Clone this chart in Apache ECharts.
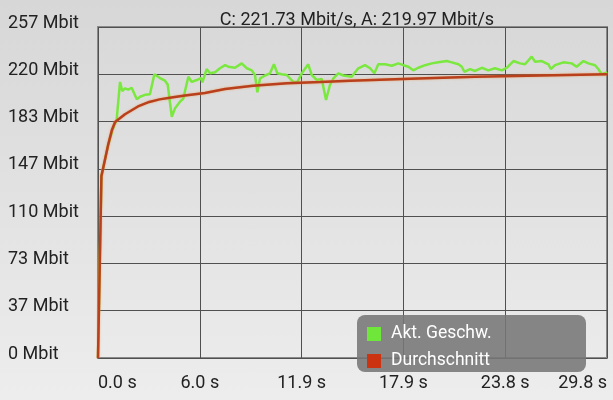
<!DOCTYPE html>
<html>
<head>
<meta charset="utf-8">
<script src="https://cdn.jsdelivr.net/npm/echarts@6/dist/echarts.min.js"></script>
<style>
html,body{margin:0;padding:0;}
#c{width:613px;height:400px;background:linear-gradient(#d7d7d7,#ededed);}
</style>
</head>
<body>
<div id="c"></div>
<script>
const titleText = 'C: 221.73 Mbit/s, A: 219.97 Mbit/s';
const seriesNames = ['Akt. Geschw.', 'Durchschnitt'];
const yTickLabels = ['0 Mbit','37 Mbit','73 Mbit','110 Mbit','147 Mbit','183 Mbit','220 Mbit','257 Mbit'];
const xTickLabels = ['0.0 s','6.0 s','11.9 s','17.9 s','23.8 s','29.8 s'];
const yMax = 256.6;
const xMax = 29.8;

const curTimes = [0,0.2,0.59,0.88,1.09,1.29,1.42,1.58,1.77,1.97,2.27,2.46,2.75,3.04,3.30,3.63,3.92,4.08,4.32,4.51,4.80,4.99,5.29,5.49,5.78,6.03,6.11,6.36,6.56,6.85,7.14,7.44,7.63,8.02,8.41,8.71,9.00,9.19,9.33,9.49,9.78,10.07,10.30,10.50,10.76,11.05,11.43,11.67,11.93,12.31,12.51,12.81,13.10,13.35,13.58,13.78,14.07,14.36,14.85,15.24,15.63,15.93,16.18,16.41,16.80,17.20,17.58,17.88,18.17,18.46,18.75,19.15,19.54,19.92,20.42,20.71,21.10,21.30,21.45,21.78,22.07,22.47,22.85,23.24,23.64,23.93,24.32,24.71,25.00,25.39,25.59,25.98,26.37,26.51,26.76,27.24,27.73,28.02,28.42,28.71,29.10,29.29,29.49,29.68,29.8];
const curValues = [0,141,165,178,184.5,214,207,209,208,209.5,200.5,202.5,204,204.4,220,217,215,212,187,193.6,198.7,201,218,214,215.5,217,213.7,224,220.7,221.5,224.6,227,225.8,225,228.4,224.6,223,219.4,206,216.8,219,220.7,227.7,220.7,220,219.4,214,214,220.7,227.7,219.4,215.5,216.3,200,211.6,216.8,220.7,219,218,224.6,227,224.6,220.7,227.7,227.7,226.6,228.4,227,225.8,223,225,227,228.4,229.2,230.2,229.2,227.7,225.8,221.9,224,222.5,225,223,224.6,223,225,230.2,228.4,227.7,233.6,229.7,230.2,227.7,224,227,229.2,228.4,225.8,230.2,228.4,227,224,220,220.7,221.73];

const avgTimes = [0,0.2,0.59,0.82,1.0,1.58,2.34,3.0,3.6,4.3,5.09,6.26,7.44,9.07,11.07,13.0,14.75,18.27,22.07,25.88,29.8];
const avgValues = [0,141,165,177,183,189,195,198.5,200.5,202,203.5,205.5,208.5,211,213,214,215,216.5,218,219,219.97];

const curData = curTimes.map((t,i)=>[t,curValues[i]]);
const avgData = avgTimes.map((t,i)=>[t,avgValues[i]]);

const chart = echarts.init(document.getElementById('c'));
const txt = '#222';
const font = 'Roboto';
chart.setOption({
  animation:false,
  backgroundColor:'transparent',
  textStyle:{fontFamily:font},
  title:{text:titleText,left:352,textAlign:'center',top:6,textStyle:{fontSize:18,fontWeight:'normal',color:txt,fontFamily:font}},
  grid:{left:98,top:27,right:6,bottom:42,show:true,borderColor:'#8a8a8a',borderWidth:2,backgroundColor:'transparent'},
  xAxis:{type:'value',min:0,max:xMax,interval:xMax/5,
    axisLine:{show:false},axisTick:{show:false},
    splitLine:{show:true,lineStyle:{color:'#505050',width:1}},
    axisLabel:{fontSize:18,color:txt,fontFamily:font,margin:16,alignMinLabel:'left',alignMaxLabel:'right',
      formatter:(v,i)=>xTickLabels[i]}},
  yAxis:{type:'value',min:0,max:yMax,interval:yMax/7,
    axisLine:{show:false},axisTick:{show:false},
    splitLine:{show:true,lineStyle:{color:'#505050',width:1}},
    axisLabel:{fontSize:18,color:txt,fontFamily:font,margin:90,align:'left',verticalAlign:'bottom',lineHeight:8,
      formatter:(v,i)=>yTickLabels[i]}},
  legend:{orient:'vertical',left:367,top:325,padding:0,itemWidth:14,itemHeight:14,itemGap:9,icon:'rect',z:120,
    textStyle:{color:'#fff',fontSize:17.5,fontFamily:font,padding:[0,0,0,5]},
    data:seriesNames},
  graphic:[{type:'rect',left:357,top:315,z:110,shape:{width:229,height:57,r:8},style:{fill:'rgba(118,118,118,0.88)'}}],
  series:[
    {name:seriesNames[0],type:'line',data:curData,showSymbol:false,symbol:'none',color:'#6fe63a',
      lineStyle:{color:'#7ae83e',width:2.5},z:2},
    {name:seriesNames[1],type:'line',data:avgData,showSymbol:false,symbol:'none',color:'#cc3311',
      lineStyle:{color:'#b8401c',width:2.5,shadowColor:'rgba(240,140,60,0.7)',shadowBlur:2},z:3}
  ]
});
</script>
</body>
</html>
